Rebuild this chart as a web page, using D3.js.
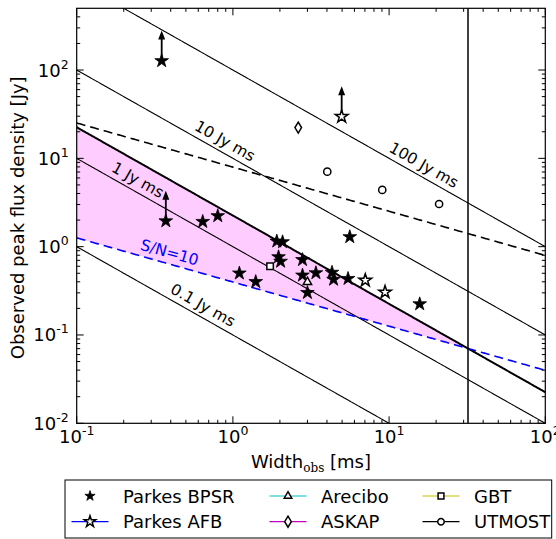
<!DOCTYPE html>
<meta charset="utf-8">
<head>
<style>
  body { margin: 0; background: #fff; }
  svg { font-family: "DejaVu Sans", sans-serif; }
  .tick-label { font-size: 18px; fill: #000; }
  .axis-label { font-size: 18px; fill: #000; }
  .line-label { font-size: 15.5px; fill: #000; }
  .legend-text { font-size: 18px; fill: #000; }
</style>
<script src="https://d3js.org/d3.v7.min.js"></script>
</head>
<body>
<svg width="556" height="539"></svg>
<script>
// ---- data ----
var bpsrWidth = [0.350, 0.372, 0.641, 0.80, 1.10, 1.40, 1.91, 2.08, 1.96, 2.02, 2.79, 2.79, 3.40, 3.00, 4.31, 4.41, 5.46, 5.60, 15.7];
var bpsrFlux  = [127, 1.95, 1.92, 2.23, 0.50, 0.40, 1.15, 1.13, 0.764, 0.68, 0.71, 0.474, 0.504, 0.301, 0.51, 0.425, 0.434, 1.29, 0.224];
var bpsrLower = [1, 1, 0, 0, 0, 0, 0, 0, 0, 0, 0, 0, 0, 0, 0, 0, 0, 0, 0];

var afbWidth = [4.97, 7.04, 9.42];
var afbFlux  = [29.7, 0.416, 0.305];
var afbLower = [1, 0, 0];

var areciboWidth = [3.0],  areciboFlux = [0.398];
var gbtWidth     = [1.73], gbtFlux     = [0.60];
var askapWidth   = [2.62], askapFlux   = [22.3];
var utmostWidth  = [4.02, 9.04, 20.9];
var utmostFlux   = [7.07, 4.39, 3.04];

var fluenceLines  = [0.1, 1, 10, 100];          // Jy ms
var fluenceLabels = ["0.1 Jy ms", "1 Jy ms", "10 Jy ms", "100 Jy ms"];
var fluenceLabelW = [0.593, 0.227, 0.82, 15.4];  // width where label sits
var completeFluence = 2.25;                      // thick line, Jy ms
var maxWidth = 32;                               // vertical line, ms
var snrCoeff = completeFluence / Math.sqrt(maxWidth);  // S/N=10 : S = k / sqrt(W)
var dashedCoeff = 20 * snrCoeff;                 // black dashed curve
var snrLabelW = 0.376;

var xTicks = [0.1, 1, 10, 100], xTickExp = ["-1", "0", "1", "2"];
var yTicks = [0.01, 0.1, 1, 10, 100], yTickExp = ["-2", "-1", "0", "1", "2"];

// ---- layout ----
var svg = d3.select("svg");
var pL = 76.7, pR = 545.3, pT = 8.3, pB = 423.3;

var x = d3.scaleLog().domain([0.1, 100]).range([pL, pR]);
var y = d3.scaleLog().domain([0.01, 500]).range([pB, pT]);

svg.append("clipPath").attr("id", "plot")
  .append("rect").attr("x", pL).attr("y", pT)
  .attr("width", pR - pL).attr("height", pB - pT);

var plot = svg.append("g").attr("clip-path", "url(#plot)");
var wGrid = d3.range(0, 301).map(function(i) { return Math.pow(10, -1 + i / 100); });

// pink region between the completeness line and S/N=10 curve
var area = d3.area()
  .x(function(d) { return x(d); })
  .y0(function(d) { return y(snrCoeff / Math.sqrt(d)); })
  .y1(function(d) { return y(completeFluence / d); });
plot.append("path")
  .datum(wGrid.filter(function(d) { return d <= maxWidth; }).concat([maxWidth]))
  .attr("d", area)
  .attr("fill", "#ffccff");

var line = function(f) {
  return d3.line().x(function(d) { return x(d); }).y(function(d) { return y(f(d)); });
};

fluenceLines.forEach(function(F) {
  plot.append("path").datum(wGrid)
    .attr("d", line(function(w) { return F / w; }))
    .attr("fill", "none").attr("stroke", "#000").attr("stroke-width", 1.1);
});

plot.append("path").datum(wGrid)
  .attr("d", line(function(w) { return completeFluence / w; }))
  .attr("fill", "none").attr("stroke", "#000").attr("stroke-width", 2);

plot.append("path").datum(wGrid)
  .attr("d", line(function(w) { return dashedCoeff / Math.sqrt(w); }))
  .attr("fill", "none").attr("stroke", "#000").attr("stroke-width", 1.6)
  .attr("stroke-dasharray", "9,5");

plot.append("path").datum(wGrid)
  .attr("d", line(function(w) { return snrCoeff / Math.sqrt(w); }))
  .attr("fill", "none").attr("stroke", "#0000ff").attr("stroke-width", 1.6)
  .attr("stroke-dasharray", "9,5");

plot.append("line")
  .attr("x1", x(maxWidth)).attr("x2", x(maxWidth))
  .attr("y1", pT).attr("y2", pB)
  .attr("stroke", "#000").attr("stroke-width", 1.5);

// labels along lines
function slopeAngle(f, w) {
  var dx = x(w * 1.1) - x(w), dy = y(f(w * 1.1)) - y(f(w));
  return Math.atan2(dy, dx) * 180 / Math.PI;
}
fluenceLines.forEach(function(F, i) {
  var w = fluenceLabelW[i], f = function(v) { return F / v; };
  svg.append("text").attr("class", "line-label")
    .attr("transform", "translate(" + x(w) + "," + y(f(w)) + ") rotate(" + slopeAngle(f, w) + ")")
    .attr("y", -6).attr("text-anchor", "middle")
    .text(fluenceLabels[i]);
});
(function() {
  var f = function(v) { return snrCoeff / Math.sqrt(v); };
  svg.append("text").attr("class", "line-label")
    .attr("transform", "translate(" + x(snrLabelW) + "," + y(f(snrLabelW)) + ") rotate(" + slopeAngle(f, snrLabelW) + ")")
    .attr("y", -6).attr("text-anchor", "middle").style("fill", "#0000ff")
    .text("S/N=10");
})();

// ---- markers ----
function marker(g, type, filled, scale) {
  scale = scale || 1;
  var fill = filled ? "#000" : "#fff";
  var p;
  if (type === "star") p = g.append("path").attr("d", d3.symbol(d3.symbolStar, (filled ? 58 : 50) * scale * scale)());
  else if (type === "triangle") p = g.append("path").attr("d", d3.symbol(d3.symbolTriangle, 30 * scale * scale)());
  else if (type === "square") p = g.append("path").attr("d", d3.symbol(d3.symbolSquare, 42 * scale * scale)());
  else if (type === "circle") p = g.append("circle").attr("r", 3.6 * scale);
  else if (type === "diamond") p = g.append("path").attr("d", "M0,-5.5L3.3,0L0,5.5L-3.3,0Z");
  p.attr("fill", fill).attr("stroke", "#000").attr("stroke-width", filled ? 0.8 : 1.5);
  return p;
}

function arrow(w, s) {
  var x0 = x(w), y0 = y(s), y1 = y(s * 2.2);
  svg.append("line").attr("x1", x0).attr("x2", x0).attr("y1", y0).attr("y2", y1 + 7)
    .attr("stroke", "#000").attr("stroke-width", 1.8);
  svg.append("path")
    .attr("d", "M" + x0 + "," + y1 + "L" + (x0 + 3.5) + "," + (y1 + 9) + "L" + (x0 - 3.5) + "," + (y1 + 9) + "Z")
    .attr("fill", "#000");
}

function series(ws, ss, type, filled, lower) {
  ws.forEach(function(w, i) {
    if (lower && lower[i]) arrow(w, ss[i]);
    var g = svg.append("g").attr("transform", "translate(" + x(w) + "," + y(ss[i]) + ")");
    marker(g, type, filled);
  });
}

series(bpsrWidth, bpsrFlux, "star", true, bpsrLower);
series(afbWidth, afbFlux, "star", false, afbLower);
series(areciboWidth, areciboFlux, "triangle", false);
series(gbtWidth, gbtFlux, "square", false);
series(askapWidth, askapFlux, "diamond", false);
series(utmostWidth, utmostFlux, "circle", false);

// ---- frame and ticks (inward, all four sides) ----
var axes = svg.append("g").attr("stroke", "#000").attr("stroke-width", 1);
var xMinor = [], yMinor = [];
[0.1, 1, 10].forEach(function(d) { for (var k = 2; k <= 9; k++) xMinor.push(d * k); });
[0.01, 0.1, 1, 10, 100].forEach(function(d) { for (var k = 2; k <= 9; k++) if (d * k < 500) yMinor.push(d * k); });

xTicks.forEach(function(t) {
  axes.append("line").attr("x1", x(t)).attr("x2", x(t)).attr("y1", pB).attr("y2", pB - 7);
  axes.append("line").attr("x1", x(t)).attr("x2", x(t)).attr("y1", pT).attr("y2", pT + 7);
});
xMinor.forEach(function(t) {
  axes.append("line").attr("x1", x(t)).attr("x2", x(t)).attr("y1", pB).attr("y2", pB - 3.5);
  axes.append("line").attr("x1", x(t)).attr("x2", x(t)).attr("y1", pT).attr("y2", pT + 3.5);
});
yTicks.forEach(function(t) {
  axes.append("line").attr("y1", y(t)).attr("y2", y(t)).attr("x1", pL).attr("x2", pL + 7);
  axes.append("line").attr("y1", y(t)).attr("y2", y(t)).attr("x1", pR).attr("x2", pR - 7);
});
yMinor.forEach(function(t) {
  axes.append("line").attr("y1", y(t)).attr("y2", y(t)).attr("x1", pL).attr("x2", pL + 3.5);
  axes.append("line").attr("y1", y(t)).attr("y2", y(t)).attr("x1", pR).attr("x2", pR - 3.5);
});
svg.append("rect").attr("x", pL).attr("y", pT)
  .attr("width", pR - pL).attr("height", pB - pT)
  .attr("fill", "none").attr("stroke", "#000").attr("stroke-width", 1.2);

function powLabel(el, exp) {
  el.append("tspan").text("10");
  el.append("tspan").attr("dy", -8).style("font-size", "12.5px").text(exp);
}
xTicks.forEach(function(t, i) {
  var el = svg.append("text").attr("class", "tick-label")
    .attr("x", x(t)).attr("y", pB + 20).attr("text-anchor", "middle");
  powLabel(el, xTickExp[i]);
});
yTicks.forEach(function(t, i) {
  var el = svg.append("text").attr("class", "tick-label")
    .attr("x", pL - 8).attr("y", y(t) + 6.5).attr("text-anchor", "end");
  powLabel(el, yTickExp[i]);
});

// axis titles
var xl = svg.append("text").attr("class", "axis-label")
  .attr("x", (pL + pR) / 2).attr("y", 468).attr("text-anchor", "middle");
xl.append("tspan").text("Width");
xl.append("tspan").attr("dy", 4).style("font-family", "'DejaVu Serif', serif").style("font-size", "12px").text("obs");
xl.append("tspan").attr("dy", -4).text(" [ms]");

svg.append("text").attr("class", "axis-label")
  .attr("transform", "translate(24," + ((pT + pB) / 2 + 2) + ") rotate(-90)")
  .attr("text-anchor", "middle")
  .text("Observed peak flux density [Jy]");

// ---- legend ----
var legendItems = [
  { label: "Parkes BPSR", type: "star", filled: true, color: null, col: 0, row: 0 },
  { label: "Parkes AFB", type: "star", filled: false, color: "#0000ff", col: 0, row: 1 },
  { label: "Arecibo", type: "triangle", filled: false, color: "#00bfbf", col: 1, row: 0 },
  { label: "ASKAP", type: "diamond", filled: false, color: "#bf00bf", col: 1, row: 1 },
  { label: "GBT", type: "square", filled: false, color: "#bfbf00", col: 2, row: 0 },
  { label: "UTMOST", type: "circle", filled: false, color: "#000", col: 2, row: 1 }
];
var colX = [90, 288, 441], rowY = [496, 521.7];

svg.append("rect").attr("x", 65).attr("y", 480).attr("width", 486.7).attr("height", 58)
  .attr("fill", "#fff").attr("stroke", "#000").attr("stroke-width", 1);

legendItems.forEach(function(d) {
  var cx = colX[d.col], cy = rowY[d.row];
  if (d.color) {
    svg.append("line").attr("x1", cx - 18.5).attr("x2", cx + 18.5).attr("y1", cy).attr("y2", cy)
      .attr("stroke", d.color).attr("stroke-width", 1.2);
  }
  var g = svg.append("g").attr("transform", "translate(" + cx + "," + cy + ")");
  marker(g, d.type, d.filled, d.filled ? 0.75 : 0.9);
  svg.append("text").attr("class", "legend-text")
    .attr("x", cx + 33).attr("y", cy + 6.5).text(d.label);
});
</script>
</body>
